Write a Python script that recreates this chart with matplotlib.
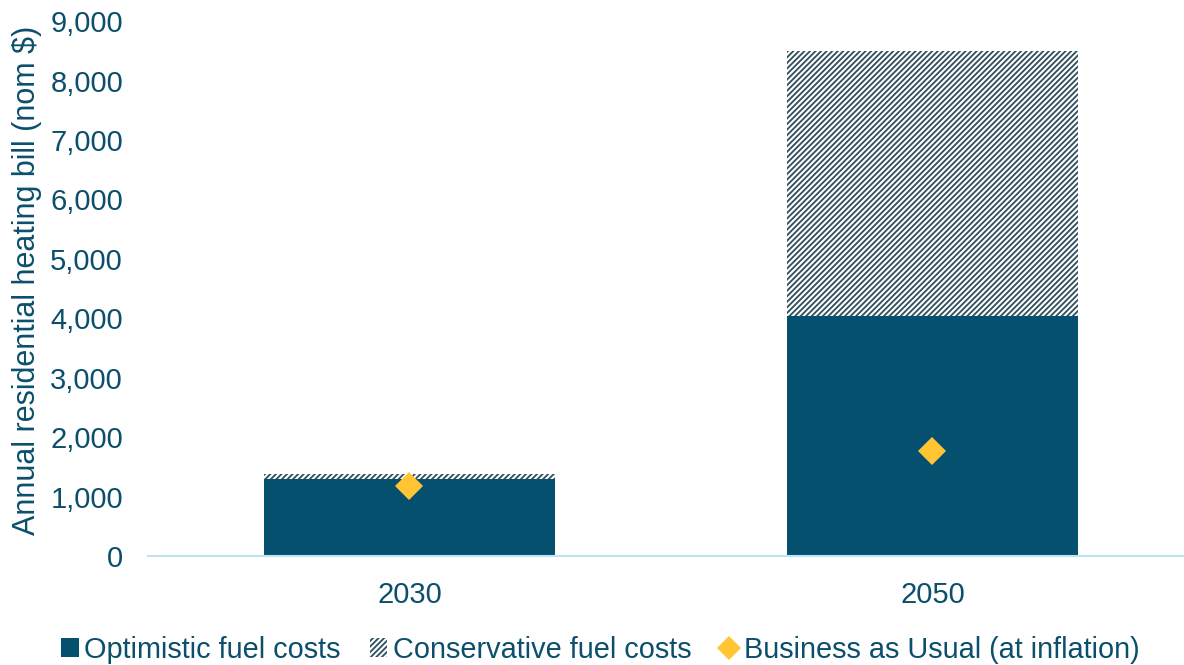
import numpy as np
import matplotlib.pyplot as plt
from matplotlib.patches import Patch
from matplotlib.lines import Line2D
from matplotlib.ticker import FuncFormatter

# Heating bill scenarios (nominal $)
years = ["2030", "2050"]
optimistic = [1300, 4040]
conservative_extra = [80, 4460]
business_as_usual = [1180, 1760]

navy = "#05506F"
hatch_col = "#2E4D5C"
text_col = "#0B4F6C"
gold = "#FFC533"

plt.rcParams["font.family"] = ["Liberation Sans", "DejaVu Sans"]
plt.rcParams["hatch.linewidth"] = 1.3

fig = plt.figure(figsize=(11.84, 6.65), dpi=100)
ax = fig.add_axes([0.125, 0.164, 0.8834, 0.804])

x = np.arange(len(years))
w = 0.555
ax.bar(x, optimistic, width=w, color=navy, linewidth=0)
ax.bar(x, conservative_extra, width=w, bottom=optimistic, color="white",
       edgecolor=hatch_col, hatch="//////", linewidth=0)
ax.plot(x, business_as_usual, linestyle="none", marker="D", markersize=14,
        color=gold, markeredgewidth=0)

ax.set_xlim(-0.5, 1.5)
ax.set_ylim(0, 9000)
ax.set_yticks(range(0, 9001, 1000))
ax.yaxis.set_major_formatter(FuncFormatter(lambda v, p: f"{int(v):,}"))
ax.set_xticks(x)
ax.set_xticklabels(years)
ax.tick_params(axis="both", length=0, labelsize=21, colors=text_col)
ax.tick_params(axis="x", pad=18)
ax.tick_params(axis="y", pad=18)

for s in ["left", "right", "top"]:
    ax.spines[s].set_visible(False)
ax.spines["bottom"].set_color("#BDE3F5")
ax.spines["bottom"].set_linewidth(1.5)

ax.set_ylabel("Annual residential heating bill (nom $)", fontsize=22,
              color=text_col)
ax.yaxis.set_label_coords(-0.101, 0.515)

handles = [
    Patch(facecolor=navy, linewidth=0),
    Patch(facecolor="white", edgecolor=hatch_col, hatch="//////", linewidth=0),
    Line2D([], [], linestyle="none", marker="D", markersize=12, color=gold,
           markeredgewidth=0),
]
labels = ["Optimistic fuel costs", "Conservative fuel costs",
          "Business as Usual (at inflation)"]
fig.legend(handles, labels, loc="center", bbox_to_anchor=(0.507, 0.023),
           ncol=3, frameon=False, fontsize=20.8, labelcolor=text_col,
           handlelength=0.6, handleheight=0.6, handletextpad=0.2,
           columnspacing=1.0)

fig.savefig("out.png", dpi=100)
